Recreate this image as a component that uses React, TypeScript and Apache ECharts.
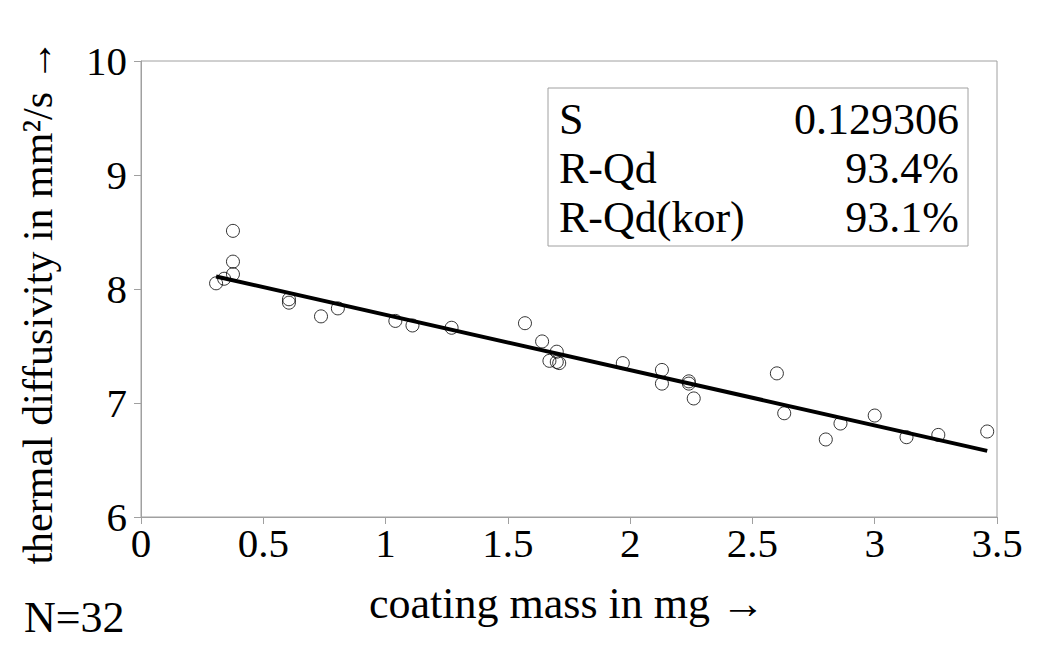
import React, { useEffect, useRef } from "react";
import * as echarts from "echarts";

const massX = [0.307, 0.34, 0.376, 0.376, 0.376, 0.605, 0.605, 0.736, 0.805, 1.04, 1.11, 1.27, 1.57, 1.64, 1.67, 1.70, 1.70, 1.71, 1.97, 2.13, 2.13, 2.24, 2.24, 2.26, 2.60, 2.63, 2.80, 2.86, 3.00, 3.13, 3.26, 3.46];
const diffY = [8.05, 8.09, 8.51, 8.24, 8.13, 7.91, 7.88, 7.76, 7.83, 7.72, 7.68, 7.66, 7.70, 7.54, 7.37, 7.45, 7.36, 7.35, 7.35, 7.29, 7.17, 7.19, 7.17, 7.04, 7.26, 6.91, 6.68, 6.82, 6.89, 6.70, 6.72, 6.75];
const fitX = [0.307, 3.46];
const fitY = [8.11, 6.58];
const statLabels = ["S", "R-Qd", "R-Qd(kor)"];
const statValues = ["0.129306", "93.4%", "93.1%"];

const FONT = "'Liberation Serif', 'Times New Roman', serif";

export default function App() {
  const ref = useRef<HTMLDivElement>(null);
  useEffect(() => {
    if (!ref.current) return;
    const chart = echarts.init(ref.current, null, { renderer: "svg" });
    const statTexts: any[] = [];
    statLabels.forEach((l, i) => {
      statTexts.push({
        type: "text",
        x: 559,
        y: 119 + i * 49,
        style: { text: l, font: `44px ${FONT}`, fill: "#000", textAlign: "left", textVerticalAlign: "middle" },
      });
      statTexts.push({
        type: "text",
        x: 959,
        y: 119 + i * 49,
        style: { text: statValues[i], font: `44px ${FONT}`, fill: "#000", textAlign: "right", textVerticalAlign: "middle" },
      });
    });
    chart.setOption({
      animation: false,
      backgroundColor: "#fff",
      grid: {
        left: 141,
        right: 46,
        top: 61,
        bottom: 130,
        show: true,
        borderColor: "#a0a0a0",
        borderWidth: 1,
      },
      xAxis: {
        type: "value",
        min: 0,
        max: 3.5,
        interval: 0.5,
        axisLine: { show: true, lineStyle: { color: "#a0a0a0" } },
        axisTick: { show: true, length: 7, lineStyle: { color: "#a0a0a0" } },
        splitLine: { show: false },
        axisLabel: { color: "#000", fontFamily: FONT, fontSize: 41, margin: 5 },
      },
      yAxis: {
        type: "value",
        min: 6,
        max: 10,
        interval: 1,
        axisLine: { show: true, lineStyle: { color: "#a0a0a0" } },
        axisTick: { show: true, length: 7, lineStyle: { color: "#a0a0a0" } },
        splitLine: { show: false },
        axisLabel: { color: "#000", fontFamily: FONT, fontSize: 41, margin: 14 },
      },
      series: [
        {
          type: "line",
          data: fitX.map((x, i) => [x, fitY[i]]),
          showSymbol: false,
          lineStyle: { color: "#000", width: 4 },
          z: 3,
        },
        {
          type: "scatter",
          data: massX.map((x, i) => [x, diffY[i]]),
          symbol: "circle",
          symbolSize: 13,
          itemStyle: { color: "rgba(255,255,255,0)", borderColor: "#000", borderWidth: 1 },
          z: 4,
        },
      ],
      graphic: [
        {
          type: "rect",
          shape: { x: 548, y: 88, width: 420, height: 158 },
          style: { fill: "#fff", stroke: "#a0a0a0", lineWidth: 1 },
          z: 10,
        },
        ...statTexts.map((t) => ({ ...t, z: 11 })),
        {
          type: "text",
          x: 567,
          y: 603,
          style: { text: "coating mass in mg →", font: `44px ${FONT}`, fill: "#000", textAlign: "center", textVerticalAlign: "middle" },
        },
        {
          type: "text",
          x: 38,
          y: 302,
          rotation: Math.PI / 2,
          style: { text: "thermal diffusivity in mm²/s →", font: `42px ${FONT}`, fill: "#000", textAlign: "center", textVerticalAlign: "middle" },
        },
        {
          type: "text",
          x: 24,
          y: 617,
          style: { text: "N=32", font: `44px ${FONT}`, fill: "#000", textAlign: "left", textVerticalAlign: "middle" },
        },
      ],
    });
    return () => chart.dispose();
  }, []);
  return <div ref={ref} style={{ width: 1043, height: 647, position: "absolute", left: 0, top: 0 }} />;
}
